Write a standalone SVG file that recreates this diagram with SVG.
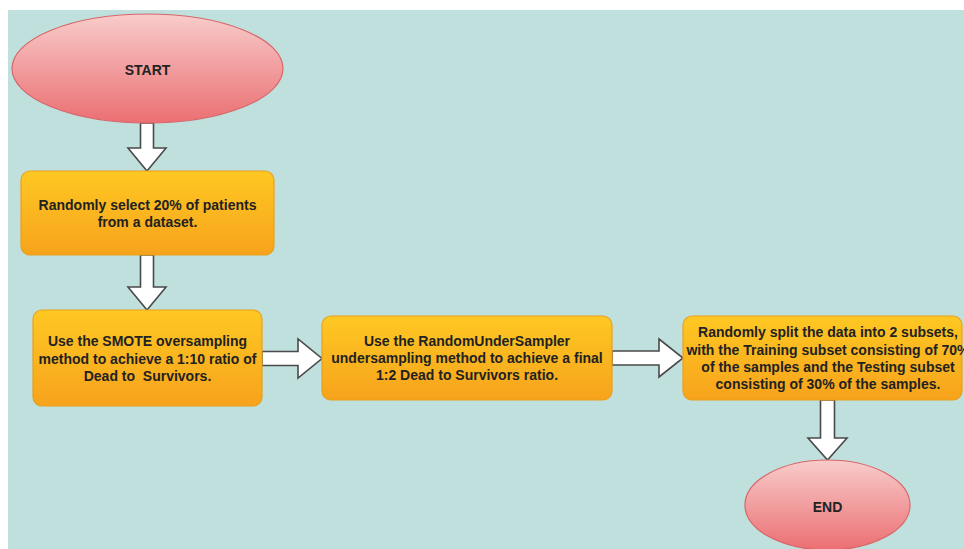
<svg xmlns="http://www.w3.org/2000/svg" width="964" height="549" viewBox="0 0 964 549">
  <defs>
    <linearGradient id="gOrange" x1="0" y1="0" x2="0" y2="1">
      <stop offset="0" stop-color="#fec823"/>
      <stop offset="1" stop-color="#f7a31c"/>
    </linearGradient>
    <linearGradient id="gPink" x1="0" y1="0" x2="0" y2="1">
      <stop offset="0" stop-color="#f8cccb"/>
      <stop offset="1" stop-color="#eb6f72"/>
    </linearGradient>
    <style>
      .box { fill: url(#gOrange); stroke: #e9a01c; stroke-width: 1.2; }
      .term { fill: url(#gPink); stroke: #d8676a; stroke-width: 1.2; }
      .arrow { fill: #ffffff; stroke: #4a4a4a; stroke-width: 1.6; stroke-linejoin: miter; }
      text { font-family: "Liberation Sans", Arial, sans-serif; font-weight: bold; font-size: 14px; fill: #222222; text-anchor: middle; }
    </style>
  </defs>
  <rect x="0" y="0" width="964" height="549" fill="#ffffff"/>
  <rect x="8" y="10" width="956" height="539" fill="#bfe0dc"/>

  <g id="connectors">
    <polygon class="arrow" points="140.5,123 153.5,123 153.5,148 166,148 147,171 128,148 140.5,148"/>
    <polygon class="arrow" points="140.5,255 153.5,255 153.5,287 166,287 147,310 128,287 140.5,287"/>
    <polygon class="arrow" points="262,351.5 298,351.5 298,339 322,358.5 298,378 298,365.5 262,365.5"/>
    <polygon class="arrow" points="612,351 659,351 659,339 683,358 659,377 659,365 612,365"/>
    <polygon class="arrow" points="820.5,400 834.5,400 834.5,438 847,438 827.5,460 808,438 820.5,438"/>
  </g>

  <g id="start">
    <ellipse class="term" cx="147.5" cy="68.5" rx="135.5" ry="54.5"/>
    <text x="147.5" y="75">START</text>
  </g>

  <g id="select">
    <rect class="box" x="21" y="171" width="253" height="84" rx="9"/>
    <text x="147.5" y="210">Randomly select 20% of patients</text>
    <text x="147.5" y="227">from a dataset.</text>
  </g>

  <g id="smote">
    <rect class="box" x="33" y="310" width="229" height="96" rx="9"/>
    <text x="147.5" y="346">Use the SMOTE oversampling</text>
    <text x="147.5" y="363.5">method to achieve a 1:10 ratio of</text>
    <text x="147.5" y="381" xml:space="preserve">Dead to  Survivors.</text>
  </g>

  <g id="undersample">
    <rect class="box" x="322" y="316" width="290" height="84" rx="9"/>
    <text x="467" y="345.5">Use the RandomUnderSampler</text>
    <text x="467" y="362.5">undersampling method to achieve a final</text>
    <text x="467" y="379.5">1:2 Dead to Survivors ratio.</text>
  </g>

  <g id="split">
    <rect class="box" x="683" y="316" width="279" height="84" rx="9"/>
    <text x="828" y="337">Randomly split the data into 2 subsets,</text>
    <text x="828" y="354.5">with the Training subset consisting of 70%</text>
    <text x="828" y="372">of the samples and the Testing subset</text>
    <text x="828" y="389">consisting of 30% of the samples.</text>
  </g>

  <g id="end">
    <ellipse class="term" cx="827.5" cy="505" rx="82.5" ry="45"/>
    <text x="827.5" y="512">END</text>
  </g>
</svg>
